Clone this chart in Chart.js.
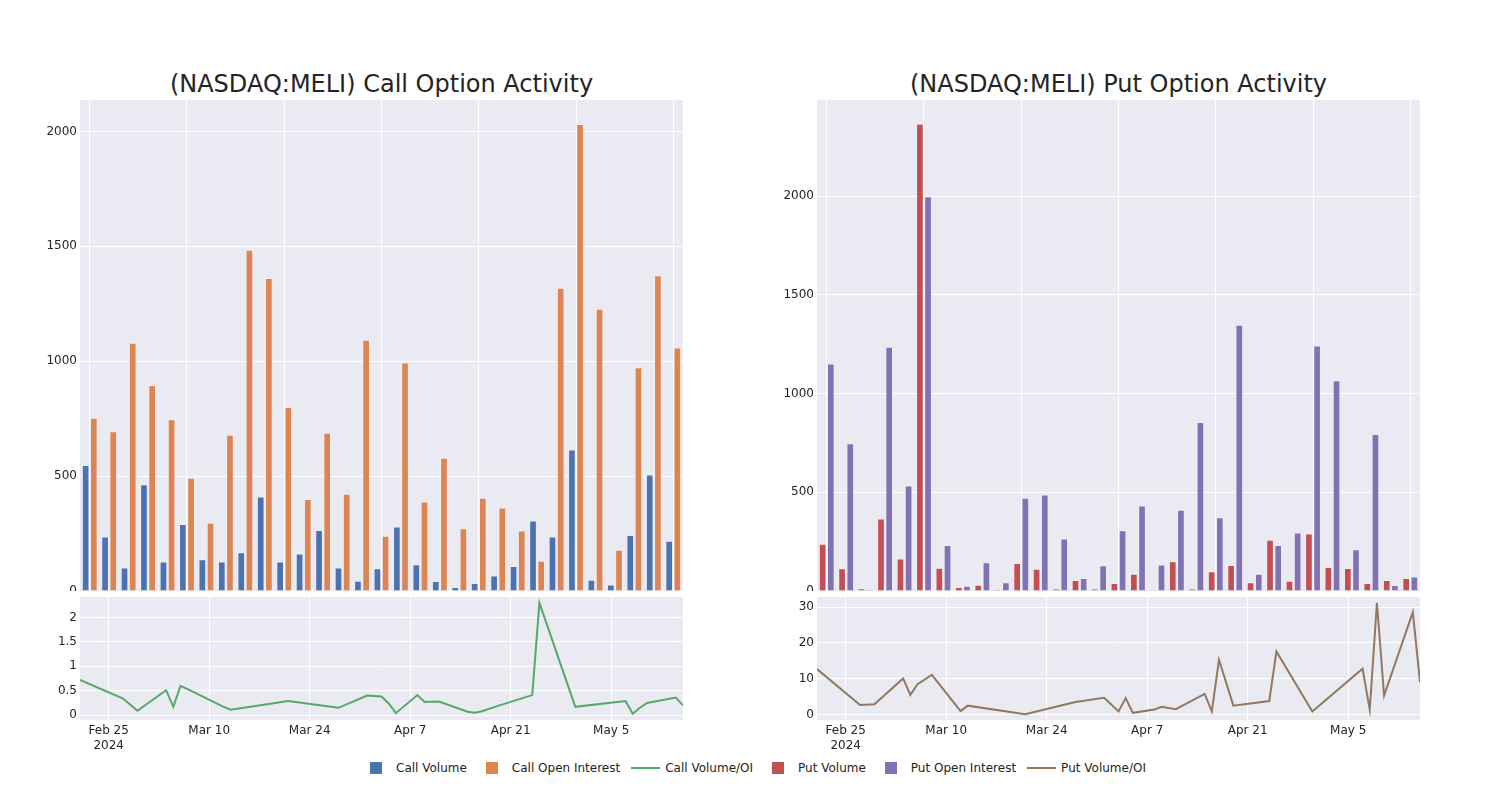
<!DOCTYPE html>
<html>
<head>
<meta charset="utf-8">
<script src="https://cdn.jsdelivr.net/npm/chart.js@4.4.1/dist/chart.umd.min.js"></script>
<style>
  body { margin: 0; background: #fff; font-family: "DejaVu Sans", sans-serif; color: #242424; }
  #page { position: relative; width: 1500px; height: 800px; overflow: hidden; }
  canvas { position: absolute; }
  .title { position: absolute; top: 70px; width: 603px; text-align: center; font-size: 24px; line-height: 28px; }
  #legend { position: absolute; top: 760px; left: 361px; display: flex; font-size: 12px; line-height: 16px; }
  .item { display: flex; align-items: center; margin-right: 10px; }
  .sym { width: 30px; height: 16px; display: flex; align-items: center; justify-content: center; }
  .sq { width: 12px; height: 12px; }
  .ln { width: 29px; height: 2px; }
  .item span { margin-left: 5px; }
</style>
</head>
<body>
<div id="page">
  <div class="title" style="left:80px">(NASDAQ:MELI) Call Option Activity</div>
  <div class="title" style="left:817px">(NASDAQ:MELI) Put Option Activity</div>
  <canvas id="callBars" width="690" height="496" style="left:0;top:95px"></canvas>
  <canvas id="callRatio" width="690" height="168" style="left:0;top:592px"></canvas>
  <canvas id="putBars" width="690" height="496" style="left:737px;top:95px"></canvas>
  <canvas id="putRatio" width="690" height="168" style="left:737px;top:592px"></canvas>
  <div id="legend"></div>
</div>
<script>
// trading days shown
const dates = [
  '2024-02-21', '2024-02-27', '2024-02-29', '2024-03-04', '2024-03-05', '2024-03-06',
  '2024-03-08', '2024-03-12', '2024-03-13', '2024-03-21', '2024-03-28', '2024-04-01',
  '2024-04-03', '2024-04-04', '2024-04-05', '2024-04-08', '2024-04-09', '2024-04-11',
  '2024-04-15', '2024-04-16', '2024-04-17', '2024-04-19', '2024-04-24', '2024-04-25',
  '2024-04-30', '2024-05-07', '2024-05-08', '2024-05-09', '2024-05-10', '2024-05-14',
  '2024-05-15'
];

const callVolume = [548, 237, 102, 465, 128, 292, 138, 128, 169, 411, 128, 163, 266, 102, 45, 99,
  281, 116, 44, 17, 35, 67, 109, 307, 237, 616, 49, 28, 244, 507, 219];
const callOpenInterest = [754, 695, 1081, 897, 747, 493, 297, 680, 1485, 1362, 801, 400, 689, 423,
  1093, 241, 994, 390, 580, 273, 406, 363, 263, 132, 1320, 2033, 1228, 179, 974, 1374, 1060];
const callVolumeOI = [0.72, 0.34, 0.09, 0.51, 0.17, 0.60, 0.46, 0.17, 0.11, 0.29, 0.15, 0.40, 0.38,
  0.24, 0.04, 0.41, 0.27, 0.28, 0.07, 0.05, 0.08, 0.18, 0.41, 2.30, 0.17, 0.29, 0.03, 0.15, 0.25,
  0.36, 0.20];

const putVolume = [239, 115, 14, 367, 164, 2367, 118, 20, 32, 7, 142, 113, 12, 56, 12, 41, 88, 5,
  151, 12, 100, 132, 44, 259, 52, 291, 122, 117, 41, 56, 66];
const putOpenInterest = [1152, 748, 7, 1237, 535, 2000, 233, 27, 146, 44, 472, 489, 266, 66, 130,
  308, 433, 134, 411, 856, 374, 1349, 88, 233, 296, 1244, 1068, 212, 795, 30, 73];
const putVolumeOI = [12.7, 2.7, 2.9, 10.1, 5.5, 8.5, 11.1, 1.0, 2.5, 0.1, 3.5, 4.7, 0.9, 4.6, 0.5,
  1.4, 2.2, 1.5, 5.8, 0.9, 15.3, 2.5, 3.8, 17.6, 0.9, 12.8, 1.4, 31.2, 5.3, 28.6, 9.1];

const barTicks = [0, 500, 1000, 1500, 2000];
const callRatioTicks = [0, 0.5, 1, 1.5, 2];
const putRatioTicks = [0, 10, 20, 30];
const dateTicks = ['2024-02-25', '2024-03-10', '2024-03-24', '2024-04-07', '2024-04-21', '2024-05-05'];

const COLORS = {
  callVol: '#4C72B0', callOI: '#DD8452', callRatio: '#55A868',
  putVol: '#C44E52', putOI: '#8172B3', putRatio: '#937860'
};
const FONT = { family: 'DejaVu Sans', size: 12 };
const TEXT = '#242424';

const DAY = 864e5;
const t0 = Date.parse(dates[0]);
const dayOf = d => (Date.parse(d) - t0) / DAY;
const MONTHS = ['Jan', 'Feb', 'Mar', 'Apr', 'May', 'Jun', 'Jul', 'Aug', 'Sep', 'Oct', 'Nov', 'Dec'];
function dateLabel(v, i) {
  const d = new Date(t0 + v * DAY);
  const s = MONTHS[d.getUTCMonth()] + ' ' + d.getUTCDate();
  return i === 0 ? [s, String(d.getUTCFullYear())] : s;
}

// grey plot background like the reference
const plotBg = {
  id: 'plotBg',
  beforeDraw(chart) {
    const { ctx, chartArea: a } = chart;
    ctx.save();
    ctx.fillStyle = '#EAEAF2';
    ctx.fillRect(a.left, a.top, a.width, a.height);
    ctx.restore();
  }
};

// keep the plot box where the canvas says, no label overhang padding
function noPad(s) {
  s.paddingTop = 0; s.paddingBottom = 0; s.paddingLeft = 0; s.paddingRight = 0;
}

function yAxis(min, max, ticks) {
  return {
    min: min, max: max,
    grid: { color: '#fff', drawTicks: false },
    border: { display: false },
    ticks: { padding: 3, color: TEXT, font: FONT, callback: v => String(v) },
    afterBuildTicks: s => { s.ticks = ticks.map(v => ({ value: v })); },
    afterFit: s => { s.width = 80; noPad(s); }
  };
}

function barChart(id, vol, oi, volColor, oiColor, yMax) {
  const bar = (label, data, color) => ({
    label: label, data: data, backgroundColor: color,
    borderColor: 'rgba(255,255,255,0.25)', borderWidth: 1,
    categoryPercentage: 0.84, barPercentage: 0.94
  });
  new Chart(document.getElementById(id), {
    type: 'bar',
    data: {
      labels: dates,
      datasets: [bar('Volume', vol, volColor), bar('Open Interest', oi, oiColor)]
    },
    options: {
      responsive: false,
      animation: false,
      layout: { padding: { top: 5, right: 7, left: 0, bottom: 0 } },
      plugins: { legend: { display: false }, tooltip: { enabled: false } },
      scales: {
        x: {
          grid: { offset: false, drawTicks: false, color: c => c.index % 5 === 0 ? '#fff' : 'rgba(0,0,0,0)' },
          border: { display: false },
          ticks: { display: false, autoSkip: false },
          afterFit: s => { s.height = 0; noPad(s); }
        },
        y: yAxis(0, yMax, barTicks)
      }
    },
    plugins: [plotBg]
  });
}

function ratioChart(id, values, color, yMin, yMax, ticks) {
  new Chart(document.getElementById(id), {
    type: 'line',
    data: {
      datasets: [{
        data: dates.map((d, i) => ({ x: dayOf(d), y: values[i] })),
        borderColor: color, borderWidth: 2, pointRadius: 0, tension: 0, fill: false
      }]
    },
    options: {
      responsive: false,
      animation: false,
      layout: { padding: { top: 5, right: 7, left: 0, bottom: 0 } },
      plugins: { legend: { display: false }, tooltip: { enabled: false } },
      scales: {
        x: {
          type: 'linear',
          min: 0, max: dayOf(dates[dates.length - 1]),
          grid: { color: '#fff', drawTicks: false },
          border: { display: false },
          afterBuildTicks: s => { s.ticks = dateTicks.map(d => ({ value: dayOf(d) })); },
          ticks: { padding: 4, maxRotation: 0, autoSkip: false, color: TEXT, font: FONT,
            callback: (v, i) => dateLabel(v, i) },
          afterFit: s => { s.height = 40; noPad(s); }
        },
        y: yAxis(yMin, yMax, ticks)
      }
    },
    plugins: [plotBg]
  });
}

barChart('callBars', callVolume, callOpenInterest, COLORS.callVol, COLORS.callOI, 2137);
barChart('putBars', putVolume, putOpenInterest, COLORS.putVol, COLORS.putOI, 2487);
ratioChart('callRatio', callVolumeOI, COLORS.callRatio, -0.1, 2.42, callRatioTicks);
ratioChart('putRatio', putVolumeOI, COLORS.putRatio, -1.5, 32.8, putRatioTicks);

// legend shared by the four panels
const legendItems = [
  ['Call Volume', COLORS.callVol, 'sq'], ['Call Open Interest', COLORS.callOI, 'sq'],
  ['Call Volume/OI', COLORS.callRatio, 'ln'], ['Put Volume', COLORS.putVol, 'sq'],
  ['Put Open Interest', COLORS.putOI, 'sq'], ['Put Volume/OI', COLORS.putRatio, 'ln']
];
const legend = document.getElementById('legend');
legendItems.forEach(([label, color, kind]) => {
  const item = document.createElement('div');
  item.className = 'item';
  item.innerHTML = '<div class="sym"><div class="' + kind + '" style="background:' + color + '"></div></div><span>' + label + '</span>';
  legend.appendChild(item);
});
</script>
</body>
</html>
